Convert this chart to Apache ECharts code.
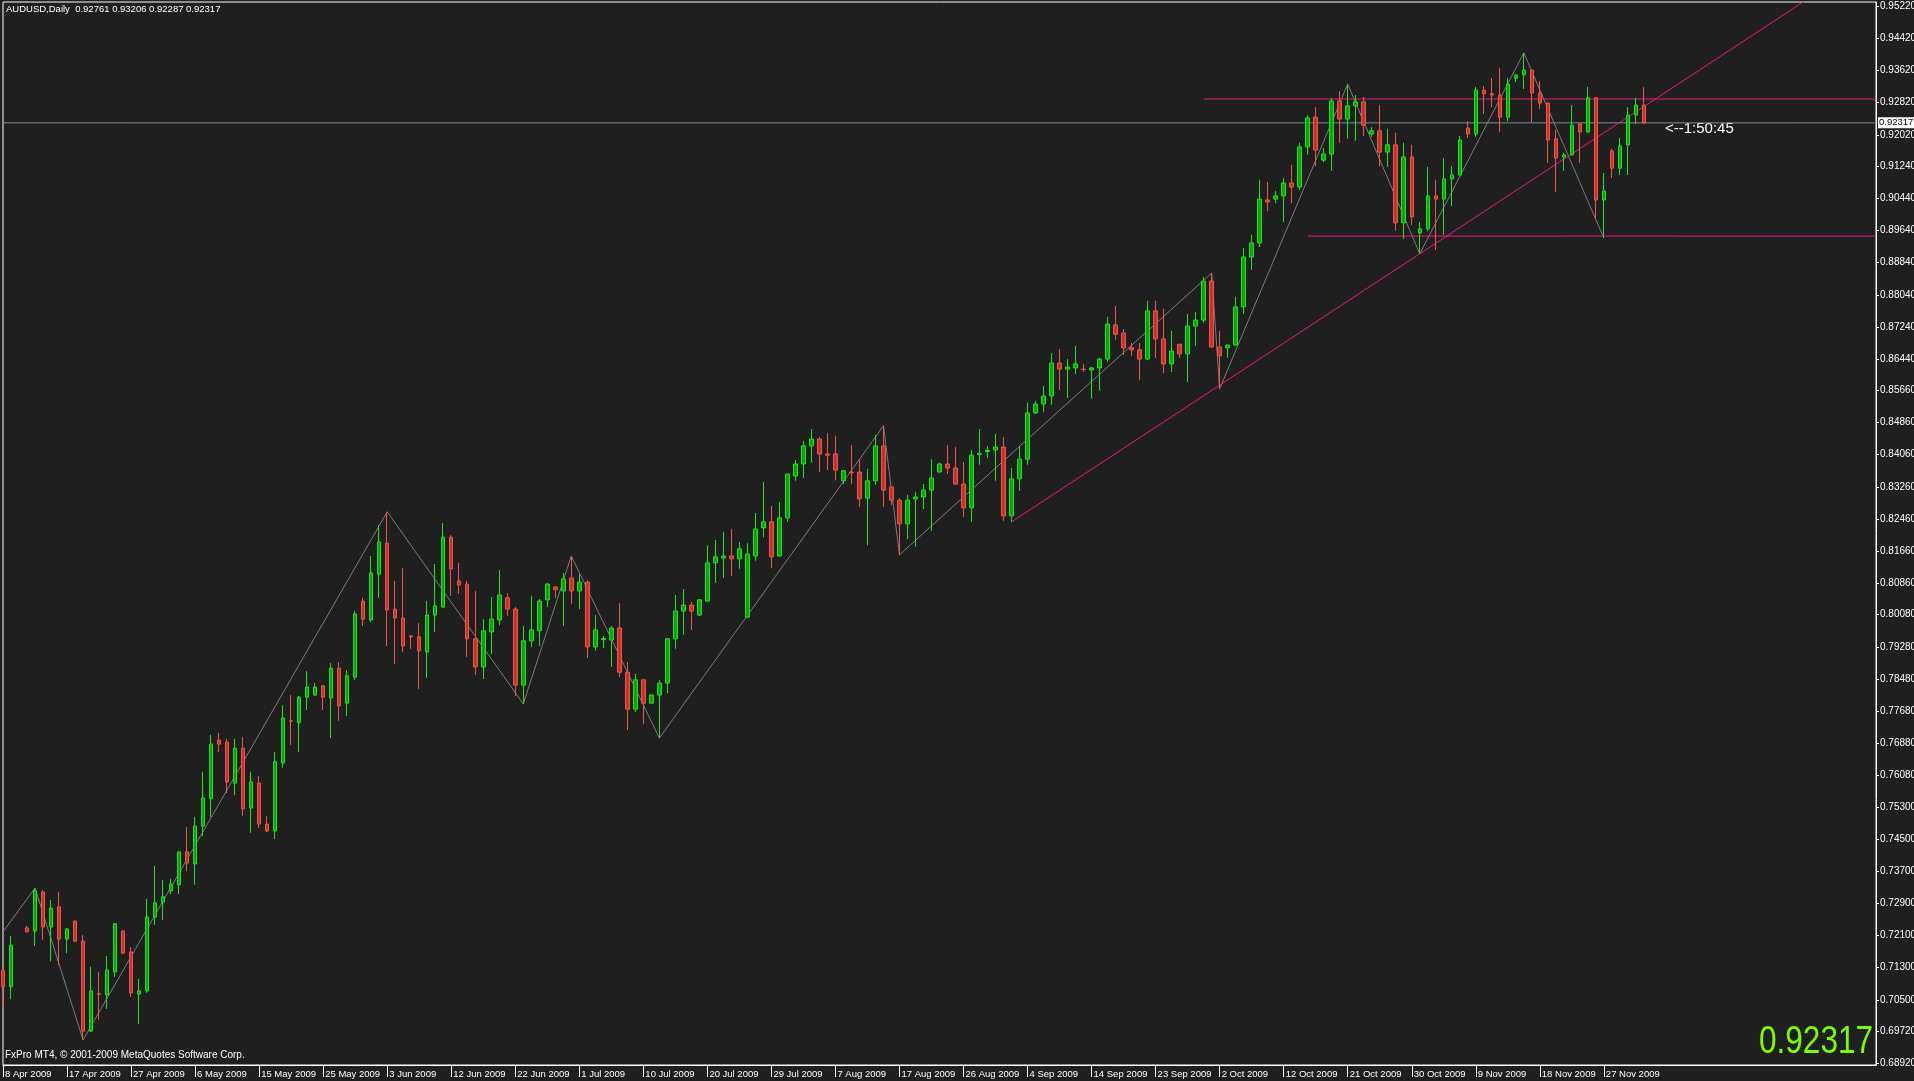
<!DOCTYPE html>
<html><head><meta charset="utf-8">
<script src="https://cdn.jsdelivr.net/npm/echarts@6/dist/echarts.min.js"></script>
<style>html,body{margin:0;padding:0;background:#1f1f1f;}#c{width:1914px;height:1081px;}</style>
</head><body><div id="c"></div>
<script>
const symbolName = 'AUDUSD,Daily';
const copyrightText = 'FxPro MT4, \u00a9 2001-2009 MetaQuotes Software Corp.';
const countdownText = '<--1:50:45';

const xTickLabels = ['8 Apr 2009','17 Apr 2009','27 Apr 2009','6 May 2009','15 May 2009','25 May 2009','3 Jun 2009','12 Jun 2009','22 Jun 2009','1 Jul 2009','10 Jul 2009','20 Jul 2009','29 Jul 2009','7 Aug 2009','17 Aug 2009','26 Aug 2009','4 Sep 2009','14 Sep 2009','23 Sep 2009','2 Oct 2009','12 Oct 2009','21 Oct 2009','30 Oct 2009','9 Nov 2009','18 Nov 2009','27 Nov 2009'];
const barsPerXTick = 8;
const yTickLabels = ['0.95220','0.94420','0.93620','0.92820','0.92020','0.91240','0.90440','0.89640','0.88840','0.88040','0.87240','0.86440','0.85660','0.84860','0.84060','0.83260','0.82460','0.81660','0.80860','0.80080','0.79280','0.78480','0.77680','0.76880','0.76080','0.75300','0.74500','0.73700','0.72900','0.72100','0.71300','0.70500','0.69720','0.68920'];

const opens = [
0.7122,0.7082,null,0.7229,0.7221,0.7318,0.7231,0.7281,0.7201,0.7246,
0.7196,0.6972,0.7065,0.7062,0.7119,0.7221,0.7169,0.7064,0.7072,0.7256,
0.7293,0.7321,0.7336,0.7418,0.7388,0.7482,0.7550,0.7696,0.7691,0.7589,
0.7676,0.7527,0.7589,0.7487,0.7470,0.7639,0.7744,0.7739,0.7803,0.7808,
0.7831,0.7801,0.7875,0.7788,0.7853,0.8042,0.7995,0.8109,0.8186,0.8022,
0.8000,0.7955,0.7953,0.7915,0.8007,0.8027,0.8201,0.8092,0.8084,0.7948,
0.7878,0.7965,0.7995,0.8050,0.8022,0.7833,0.7943,0.7968,0.8045,0.8077,
0.8067,0.8099,0.8067,0.8089,0.7928,0.7946,0.7945,0.7975,0.7865,0.7773,
0.7846,0.7788,0.7808,0.7838,0.7948,0.8017,0.8032,0.8007,0.8042,0.8137,
0.8149,0.8154,0.8147,0.8002,0.8154,0.8224,0.8239,0.8154,0.8249,0.8353,
0.8383,0.8428,0.8445,0.8408,0.8408,0.8341,0.8363,0.8363,0.8298,0.8341,
0.8428,0.8326,0.8293,0.8234,0.8296,0.8301,0.8318,0.8363,0.8383,0.8373,
0.8333,0.8274,0.8407,0.8414,0.8418,0.8425,0.8254,0.8346,0.8395,0.8510,
0.8532,0.8552,0.8634,0.8619,0.8622,0.8619,0.8617,0.8622,0.8644,0.8729,
0.8709,0.8672,0.8667,0.8644,0.8764,0.8694,0.8632,0.8681,0.8657,0.8726,
0.8741,0.8838,0.8674,0.8672,0.8679,0.8774,0.8898,0.8933,0.9040,0.9042,
0.9050,0.9082,0.9072,0.9172,0.9246,0.9139,0.9154,0.9286,0.9241,0.9274,
0.9284,0.9204,0.9212,0.9159,0.9177,0.8983,0.9147,0.8958,0.8968,0.9050,
0.9042,0.9092,0.9102,0.9219,0.9204,0.9313,0.9304,0.9301,0.9246,0.9343,
0.9351,0.9363,0.9306,0.9281,0.9192,0.9147,0.9152,0.9229,0.9209,0.9294,
0.9040,0.9162,0.9119,0.9177,0.9251,0.92761];
const highs = [
0.7129,0.7209,null,0.7234,0.7328,0.7323,0.7298,0.7318,0.7229,0.7247,
0.7211,0.7132,0.7119,0.7159,0.7241,0.7222,0.7181,0.7102,0.7301,0.7383,
0.7348,0.7351,0.7419,0.7480,0.7505,0.7617,0.7709,0.7714,0.7699,0.7699,
0.7704,0.7617,0.7607,0.7507,0.7666,0.7783,0.7808,0.7806,0.7868,0.7838,
0.7833,0.7888,0.7890,0.7870,0.8017,0.8050,0.8154,0.8231,0.8264,0.8092,
0.8124,0.7956,0.7987,0.8042,0.8134,0.8236,0.8206,0.8137,0.8092,0.8067,
0.7997,0.8052,0.8119,0.8062,0.8027,0.7980,0.8055,0.8047,0.8087,0.8079,
0.8112,0.8154,0.8109,0.8094,0.8007,0.7955,0.7980,0.8037,0.7890,0.7861,
0.7847,0.7809,0.7846,0.7950,0.8057,0.8072,0.8040,0.8046,0.8181,0.8194,
0.8214,0.8221,0.8189,0.8186,0.8261,0.8338,0.8279,0.8288,0.8359,0.8393,
0.8440,0.8470,0.8450,0.8460,0.8453,0.8368,0.8430,0.8393,0.8371,0.8455,
0.8478,0.8327,0.8298,0.8306,0.8313,0.8333,0.8395,0.8386,0.8430,0.8425,
0.8388,0.8418,0.8470,0.8428,0.8458,0.8450,0.8373,0.8428,0.8535,0.8540,
0.8577,0.8659,0.8669,0.8644,0.8677,0.8632,0.8624,0.8647,0.8749,0.8776,
0.8719,0.8684,0.8684,0.8789,0.8789,0.8769,0.8714,0.8682,0.8756,0.8761,
0.8848,0.8858,0.8714,0.8680,0.8799,0.8920,0.8953,0.9090,0.9085,0.9062,
0.9095,0.9127,0.9182,0.9251,0.9271,0.9169,0.9294,0.9311,0.9328,0.9301,
0.9296,0.9221,0.9276,0.9217,0.9207,0.9182,0.9177,0.8985,0.9122,0.9090,
0.9144,0.9124,0.9199,0.9236,0.9321,0.9323,0.9343,0.9368,0.9343,0.9352,
0.9406,0.9364,0.9336,0.9282,0.9214,0.9157,0.9276,0.9231,0.9321,0.9295,
0.9107,0.9167,0.9194,0.9271,0.9294,0.93206];
const lows = [
0.7032,0.7052,null,0.7218,0.7184,0.7199,0.7146,0.7137,0.7166,0.7194,
0.6950,0.6970,0.7000,0.7027,0.7107,0.7164,0.7057,0.6990,0.7067,0.7236,
0.7248,0.7313,0.7313,0.7370,0.7336,0.7457,0.7505,0.7666,0.7564,0.7559,
0.7507,0.7465,0.7477,0.7467,0.7450,0.7627,0.7684,0.7666,0.7771,0.7807,
0.7771,0.7701,0.7744,0.7756,0.7846,0.7980,0.7990,0.8050,0.7930,0.7885,
0.7915,0.7923,0.7823,0.7851,0.7965,0.8026,0.8055,0.8060,0.7903,0.7858,
0.7848,0.7910,0.7982,0.8005,0.7806,0.7786,0.7928,0.7930,0.8027,0.8050,
0.7980,0.8035,0.8022,0.7900,0.7918,0.7925,0.7878,0.7853,0.7721,0.7766,
0.7736,0.7787,0.7701,0.7813,0.7923,0.7958,0.7970,0.8005,0.8040,0.8087,
0.8099,0.8104,0.8122,0.8001,0.8142,0.8201,0.8124,0.8153,0.8239,0.8341,
0.8348,0.8386,0.8363,0.8368,0.8343,0.8333,0.8333,0.8276,0.8181,0.8331,
0.8276,0.8281,0.8157,0.8196,0.8177,0.8271,0.8216,0.8362,0.8358,0.8332,
0.8251,0.8239,0.8381,0.8398,0.8341,0.8241,0.8239,0.8316,0.8381,0.8507,
0.8512,0.8530,0.8567,0.8547,0.8607,0.8612,0.8545,0.8565,0.8637,0.8692,
0.8654,0.8652,0.8592,0.8642,0.8647,0.8609,0.8612,0.8647,0.8587,0.8677,
0.8734,0.8673,0.8570,0.8647,0.8678,0.8756,0.8866,0.8923,0.9012,0.9032,
0.8985,0.9032,0.9065,0.9152,0.9124,0.9134,0.9112,0.9182,0.9192,0.9187,
0.9199,0.9197,0.9124,0.9122,0.8963,0.8943,0.8978,0.8906,0.8963,0.8915,
0.8953,0.9025,0.9101,0.9194,0.9197,0.9254,0.9271,0.9209,0.9236,0.9333,
0.9316,0.9234,0.9266,0.9132,0.9060,0.9112,0.9151,0.9132,0.9208,0.8993,
0.8945,0.9095,0.9102,0.9102,0.9229,0.92287];
const closes = [
0.7082,0.7186,null,0.7219,0.7321,0.7231,0.7278,0.7201,0.7226,0.7196,
0.6972,0.7072,0.7064,0.7124,0.7239,0.7166,0.7067,0.7072,0.7256,0.7291,
0.7306,0.7338,0.7418,0.7390,0.7482,0.7552,0.7686,0.7686,0.7592,0.7676,
0.7525,0.7592,0.7487,0.7470,0.7642,0.7751,0.7743,0.7803,0.7828,0.7828,
0.7803,0.7875,0.7781,0.7856,0.8010,0.7997,0.8112,0.8189,0.8020,0.8000,
0.7930,0.7953,0.7918,0.8007,0.8030,0.8201,0.8122,0.8082,0.7948,0.7878,
0.7968,0.7997,0.8057,0.8022,0.7833,0.7943,0.7970,0.8042,0.8084,0.8070,
0.8097,0.8067,0.8089,0.7928,0.7970,0.7949,0.7975,0.7865,0.7773,0.7846,
0.7788,0.7808,0.7838,0.7948,0.8017,0.8032,0.8017,0.8045,0.8137,0.8152,
0.8154,0.8147,0.8172,0.8159,0.8221,0.8239,0.8152,0.8249,0.8358,0.8383,
0.8428,0.8445,0.8408,0.8405,0.8368,0.8366,0.8361,0.8296,0.8341,0.8428,
0.8318,0.8293,0.8234,0.8293,0.8301,0.8318,0.8348,0.8383,0.8373,0.8333,
0.8274,0.8405,0.8409,0.8417,0.8425,0.8254,0.8346,0.8395,0.8510,0.8532,
0.8552,0.8634,0.8619,0.8624,0.8632,0.8618,0.8622,0.8644,0.8731,0.8706,
0.8672,0.8667,0.8644,0.8764,0.8694,0.8632,0.8664,0.8657,0.8726,0.8741,
0.8838,0.8674,0.8652,0.8679,0.8774,0.8898,0.8933,0.9042,0.9035,0.9050,
0.9082,0.9072,0.9172,0.9244,0.9164,0.9154,0.9286,0.9241,0.9274,0.9284,
0.9226,0.9212,0.9159,0.9177,0.8983,0.9147,0.8998,0.8968,0.9050,0.9042,
0.9092,0.9102,0.9189,0.9204,0.9313,0.9304,0.9301,0.9246,0.9328,0.9351,
0.9363,0.9306,0.9281,0.9189,0.9144,0.9152,0.9226,0.9209,0.9294,0.9040,
0.9062,0.9119,0.9174,0.9251,0.9276,0.92317];

// ZigZag indicator swing points (bar index, price)
const zigzagIdx   = [0, 4, 10, 48, 65, 71, 82, 110, 112, 151, 152, 168, 177, 190, 200];
const zigzagPrice = [0.7219, 0.7328, 0.6950, 0.8264, 0.7786, 0.8154, 0.7701, 0.8478, 0.8157, 0.8858, 0.8570, 0.9328, 0.8906, 0.9406, 0.8945];
// Trend line through two lows (bar index, price), extended as a ray
const trendIdx   = [126, 177];
const trendPrice = [0.8239, 0.8906];
// Horizontal levels: [start bar, price]
const resistanceLevel = [150, 0.9291];
const supportLevel    = [163, 0.8950];

const slotCount = 235;           // bars + right chart shift
const yMin = 0.68877, yMax = 0.95324;

const FONT = '"Liberation Sans", Arial, sans-serif';
const last = opens.length - 1;
const lastClose = closes[last];
const fmt = v => v.toFixed(5);

const categories = Array.from({length: slotCount}, (_, i) => String(i));
const candles = opens.map((o, i) => o == null ? [NaN, NaN, NaN, NaN] : [o, closes[i], lows[i], highs[i]]);
const tickShown = idx => idx % barsPerXTick === 0 && idx / barsPerXTick < xTickLabels.length;

const slope = (trendPrice[1] - trendPrice[0]) / (trendIdx[1] - trendIdx[0]);
const endIdx = slotCount - 1;
const trendData = [[trendIdx[0], trendPrice[0]], [endIdx, trendPrice[0] + slope * (endIdx - trendIdx[0])]];

const chart = echarts.init(document.getElementById('c'), null, {renderer: 'canvas'});
chart.setOption({
  animation: false,
  backgroundColor: '#1f1f1f',
  grid: {left: 3, right: 38, top: 2, bottom: 16, outerBoundsMode: 'none', containLabel: false,
    show: true, borderColor: '#ffffff', borderWidth: 1, backgroundColor: 'transparent'},
  xAxis: {
    type: 'category', data: categories, boundaryGap: false,
    axisLine: {show: true, lineStyle: {color: '#ffffff', width: 1}},
    axisTick: {show: true, interval: tickShown, length: 12, lineStyle: {color: '#ffffff'}},
    axisLabel: {interval: tickShown, hideOverlap: false, color: '#ffffff', fontSize: 9.5, fontFamily: FONT, align: 'left', margin: 4, padding: [0, 0, 0, 2],
      formatter: (v, idx) => xTickLabels[idx / barsPerXTick] || ''},
    splitLine: {show: false}
  },
  yAxis: {
    type: 'value', position: 'right', min: yMin, max: yMax, scale: true,
    axisLine: {show: true, lineStyle: {color: '#ffffff', width: 1}},
    axisTick: {show: true, length: 3, customValues: yTickLabels.map(Number), lineStyle: {color: '#ffffff'}},
    axisLabel: {customValues: yTickLabels.map(Number), hideOverlap: false, color: '#ffffff', fontSize: 10, fontFamily: FONT, margin: 4, formatter: v => fmt(v)},
    splitLine: {show: false}
  },
  series: [
    {
      name: 'ZigZag', type: 'line', z: 2, silent: true, symbol: 'none',
      data: zigzagIdx.map((x, i) => [x, zigzagPrice[i]]),
      lineStyle: {color: '#7c7c7c', width: 1}
    },
    {
      name: 'Trend', type: 'line', z: 2, silent: true, symbol: 'none', clip: true,
      data: trendData, lineStyle: {color: '#f0147f', width: 1}
    },
    {
      name: 'Resistance', type: 'line', z: 2, silent: true, symbol: 'none',
      data: [[resistanceLevel[0], resistanceLevel[1]], [endIdx, resistanceLevel[1]]], lineStyle: {color: '#e0207c', width: 1}
    },
    {
      name: 'Support', type: 'line', z: 2, silent: true, symbol: 'none',
      data: [[supportLevel[0], supportLevel[1]], [endIdx, supportLevel[1]]], lineStyle: {color: '#f0147f', width: 1}
    },
    {
      name: 'Bid', type: 'line', z: 2, silent: true, symbol: 'none', clip: false,
      data: [[0, lastClose], [endIdx, lastClose]],
      lineStyle: {color: '#7b8b9c', width: 1},
      endLabel: {show: true, distance: 2, formatter: () => fmt(lastClose), color: '#000000', backgroundColor: '#ffffff',
        fontSize: 9.5, fontFamily: FONT, padding: [1, 1, 0, 1]}
    },
    {
      name: 'AUDUSD', type: 'candlestick', z: 3, clip: false, barWidth: 4,
      data: candles,
      itemStyle: {color: '#0ba40b', color0: '#c8322c', borderColor: '#1ee61e', borderColor0: '#f0564a', borderWidth: 1}
    }
  ],
  graphic: [
    {type: 'text', left: 6, top: 4, silent: true,
      style: {text: symbolName + '  ' + [opens[last], highs[last], lows[last], closes[last]].map(fmt).join(' '), fill: '#ffffff', font: '9.5px ' + FONT}},
    {type: 'text', left: 5, top: 1050, silent: true,
      style: {text: copyrightText, fill: '#ffffff', font: '10px ' + FONT}},
    {type: 'text', left: 1665, top: 121, silent: true,
      style: {text: countdownText, fill: '#ffffff', font: '15px ' + FONT}},
    {type: 'text', x: 1873, y: 1043, scaleX: 0.83, silent: true,
      style: {text: fmt(lastClose), fill: '#7cfc00', font: '38px ' + FONT, align: 'right', verticalAlign: 'middle'}}
  ]
});
</script>
</body></html>
